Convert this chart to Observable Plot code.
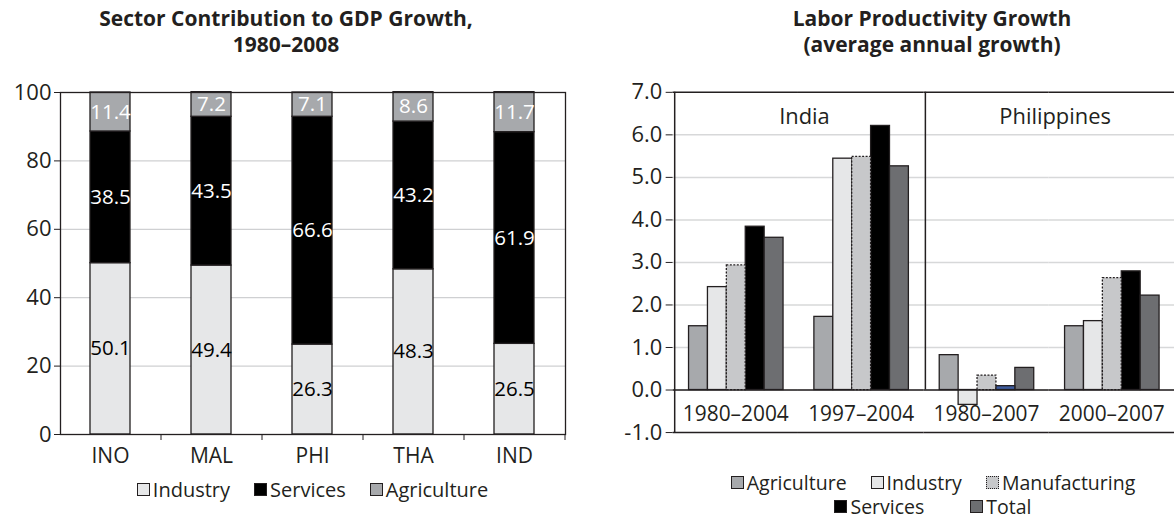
<!DOCTYPE html>
<html>
<head>
<meta charset="utf-8">
<script src="https://cdn.jsdelivr.net/npm/d3@7"></script>
<script src="https://cdn.jsdelivr.net/npm/@observablehq/plot@0.6"></script>
<style>
  html, body { margin: 0; padding: 0; background: #fff; }
  body { width: 1174px; height: 520px; overflow: hidden; position: relative; font-family: "Open Sans", sans-serif; color: #231f20; }
  .title { position: absolute; text-align: center; font-weight: bold; font-size: 21px; line-height: 25.5px; white-space: nowrap; }
  .chart { position: absolute; }
  .legrow { position: absolute; text-align: center; font-size: 20px; line-height: 24px; height: 24px; white-space: nowrap; }
  .legrow.small { font-size: 19.5px; line-height: 23.5px; height: 23.5px; }
  .item { display: inline-block; margin: 0 12px; }
  .sw { display: inline-block; width: 11px; height: 11px; border: 1px solid #231f20; margin-right: 3px; vertical-align: 1px; }
</style>
</head>
<body>
<div class="title" style="left:86px; width:400px; top:6px;">Sector Contribution to GDP Growth,<br>1980–2008</div>
<div class="title" style="left:732px; width:400px; top:6px;">Labor Productivity Growth<br>(average annual growth)</div>
<div id="left" class="chart" style="left:0; top:60px;"></div>
<div id="right" class="chart" style="left:600px; top:60px;"></div>
<div id="legL" class="legrow" style="left:60px; width:505px; top:478px;"></div>
<div id="legR1" class="legrow small" style="left:672px; width:522px; top:471px;"></div>
<div id="legR2" class="legrow small" style="left:672px; width:522px; top:494.5px;"></div>
<script>
// ---------- Left chart data ----------
const economies = ["INO", "MAL", "PHI", "THA", "IND"];
const sectors = ["Industry", "Services", "Agriculture"];
const industryShare = [50.1, 49.4, 26.3, 48.3, 26.5];
const servicesShare = [38.5, 43.5, 66.6, 43.2, 61.9];
const agricultureShare = [11.4, 7.2, 7.1, 8.6, 11.7];
const shareTicks = [0, 20, 40, 60, 80, 100];

// ---------- Right chart data ----------
const periods = ["1980–2004", "1997–2004", "1980–2007", "2000–2007"];
const periodCountry = ["India", "India", "Philippines", "Philippines"];
const series = ["Agriculture", "Industry", "Manufacturing", "Services", "Total"];
const prodAgriculture = [1.5, 1.72, 0.82, 1.5];
const prodIndustry = [2.42, 5.44, -0.35, 1.62];
const prodManufacturing = [2.93, 5.48, 0.34, 2.63];
const prodServices = [3.84, 6.21, 0.09, 2.79];
const prodTotal = [3.58, 5.26, 0.52, 2.22];
const growthTicks = [-1, 0, 1, 2, 3, 4, 5, 6, 7];

// ---------- Styles ----------
const ink = "#231f20";
const leftColors = ["#e6e7e8", "#000000", "#a7a9ac"];
const rightColors = ["#a7a9ac", "#e6e7e8", "#c7c8ca", "#000000", "#6d6e71"];

// ---------- Left chart ----------
const shareCols = [industryShare, servicesShare, agricultureShare];
const shareData = [];
economies.forEach((e, i) => {
  let base = 0;
  sectors.forEach((s, j) => {
    const v = shareCols[j][i];
    shareData.push({economy: e, sector: s, value: v, mid: base + v / 2});
    base += v;
  });
});

const LW = 590, LH = 420, LML = 60, LMR = 25;
const lStep = (LW - LML - LMR) / economies.length;

const left = Plot.plot({
  width: LW, height: LH,
  marginTop: 32, marginBottom: 46, marginLeft: LML, marginRight: LMR,
  style: {fontFamily: "Open Sans", fontSize: "21px", color: ink, background: "white", overflow: "visible"},
  x: {domain: economies, paddingInner: 0.6, paddingOuter: 0.3},
  y: {domain: [0, 100]},
  color: {domain: sectors, range: leftColors},
  marks: [
    Plot.gridY(shareTicks.slice(1, -1), {stroke: "#cfd0d2", strokeOpacity: 1, strokeWidth: 1.3}),
    Plot.barY(shareData, {x: "economy", y: "value", z: "sector", fill: "sector", stroke: ink, strokeWidth: 1.3}),
    Plot.text(shareData, {x: "economy", y: "mid",
      text: d => d.value.toFixed(1),
      fill: d => d.sector === "Industry" ? "#000000" : "#ffffff",
      fontSize: 20.5}),
    Plot.frame({stroke: ink, strokeWidth: 1.3}),
    Plot.axisY(shareTicks, {tickSize: 6, tickPadding: 3, label: null, fontSize: 22, stroke: ink}),
    Plot.axisX({tickSize: 0, tickPadding: 14, label: null, fontSize: 21}),
    Plot.axisX({tickSize: 6, tickFormat: () => "", label: null, dx: lStep / 2, stroke: ink})
  ]
});
document.getElementById("left").appendChild(left);

// ---------- Right chart ----------
const prodCols = [prodAgriculture, prodIndustry, prodManufacturing, prodServices, prodTotal];
const prodData = [];
periods.forEach((p, i) => series.forEach((s, j) => prodData.push({period: p, country: periodCountry[i], series: s, value: prodCols[j][i]})));

const RW = 577, RH = 420, RML = 72, RMR = 0;
const po = 0.72;
const facetW = (RW - RML - RMR) / periods.length;
const barStep = facetW / (series.length + 2 * po);
const edgeDx = -barStep * (po + 0.5);

const countryLabels = [];
periodCountry.forEach((c, i) => { if (i === 0 || periodCountry[i - 1] !== c) countryLabels.push({period: periods[i], country: c}); });
const yMin = growthTicks[0], yMax = growthTicks[growthTicks.length - 1];
const edges = [
  {period: periods[0], s: series[0], y1: yMin, y2: yMax},
  {period: periods[2], s: series[0], y1: 0, y2: yMax}
];
const blueBar = prodData.filter(d => d.period === periods[2] && d.series === "Services");

const right = Plot.plot({
  width: RW, height: RH,
  marginTop: 32, marginBottom: 46, marginLeft: RML, marginRight: RMR,
  style: {fontFamily: "Open Sans", fontSize: "21px", color: ink, background: "white", overflow: "visible"},
  fx: {domain: periods, paddingInner: 0, paddingOuter: 0, axis: null},
  x: {domain: series, paddingInner: 0, paddingOuter: po, axis: null},
  y: {domain: [yMin, yMax]},
  color: {domain: series, range: rightColors},
  marks: [
    Plot.gridY(growthTicks.slice(1, -1), {stroke: "#d7d8d9", strokeOpacity: 1, strokeWidth: 1.5}),
    Plot.barY(prodData.filter(d => d.series !== "Manufacturing"), {fx: "period", x: "series", y: "value", fill: "series", stroke: ink, strokeWidth: 1.3}),
    Plot.barY(prodData.filter(d => d.series === "Manufacturing"), {fx: "period", x: "series", y: "value", fill: "series", stroke: ink, strokeWidth: 1.3, strokeDasharray: "2,1.5"}),
    Plot.barY(blueBar, {fx: "period", x: "series", y: "value", fill: "#3d5c9e", stroke: ink, strokeWidth: 1.3}),
    Plot.ruleY([0], {stroke: ink, strokeWidth: 1.5}),
    Plot.ruleY([yMin, yMax], {stroke: ink, strokeWidth: 1.5}),
    Plot.ruleX(edges, {fx: "period", x: "s", y1: "y1", y2: "y2", dx: edgeDx, stroke: ink, strokeWidth: 1.5}),
    Plot.text(periods, {fx: d => d, text: d => d, frameAnchor: "bottom", lineAnchor: "middle", dy: -18, fontSize: 21}),
    Plot.text(countryLabels, {fx: "period", text: "country", frameAnchor: "top-right", textAnchor: "middle", lineAnchor: "middle", dy: 25, dx: 6, fontSize: 22}),
    Plot.axisY(growthTicks, {tickSize: 7, tickPadding: 4, label: null, tickFormat: d => d.toFixed(1), fontSize: 22, stroke: ink})
  ]
});
document.getElementById("right").appendChild(right);

// ---------- Legends ----------
function item(label, color, dotted) {
  return `<span class="item"><span class="sw" style="background:${color};${dotted ? "border-style:dotted;" : ""}"></span>${label}</span>`;
}
document.getElementById("legL").innerHTML = sectors.map((s, i) => item(s, leftColors[i], false)).join("");
document.getElementById("legR1").innerHTML = series.slice(0, 3).map((s, i) => item(s, rightColors[i], s === "Manufacturing")).join("");
document.getElementById("legR2").innerHTML = series.slice(3).map((s, i) => item(s, rightColors[i + 3], false)).join('<span style="display:inline-block;width:22px"></span>');
</script>
</body>
</html>
